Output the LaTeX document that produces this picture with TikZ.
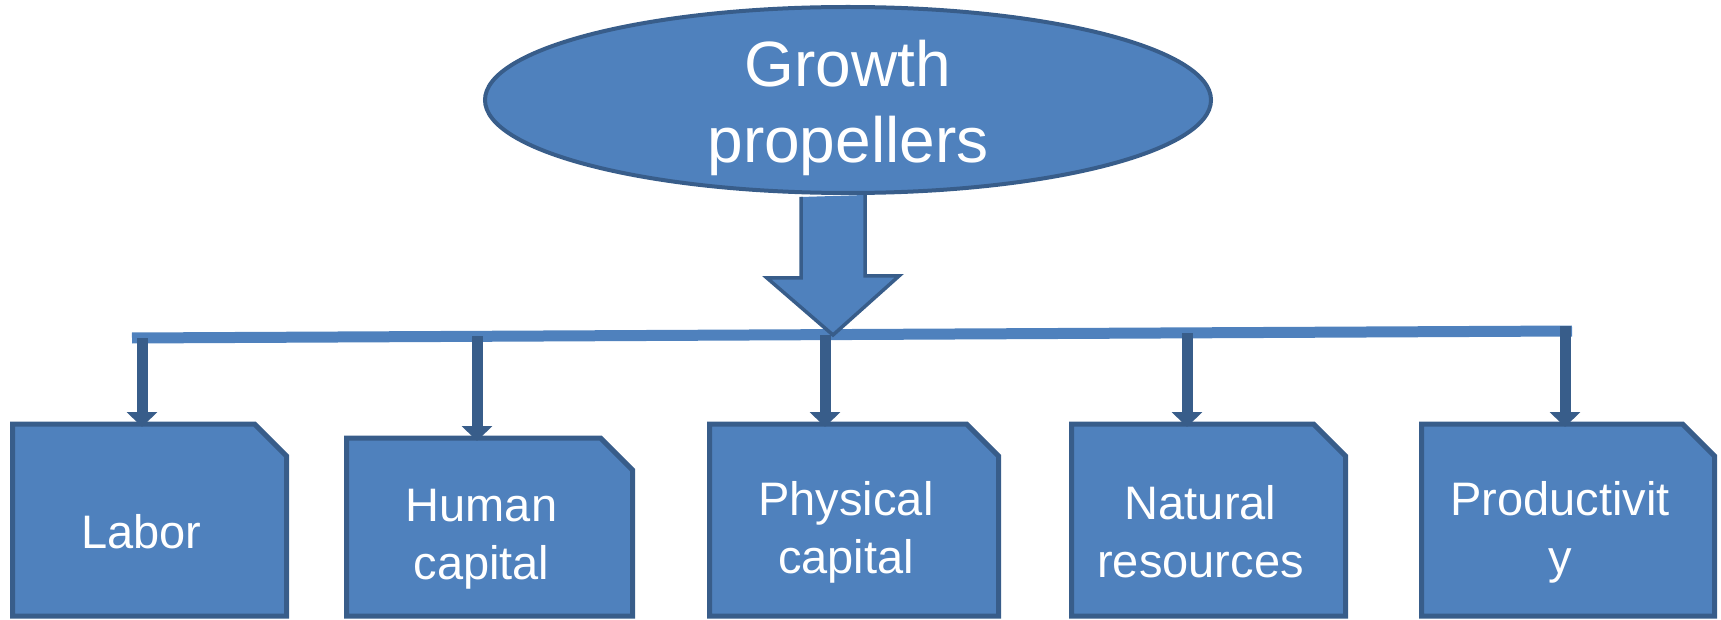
\documentclass[tikz,border=0pt]{standalone}
\usepackage{fontspec}
\setmainfont{Liberation Sans}
\usetikzlibrary{shapes.geometric,arrows.meta,calc,backgrounds}
\definecolor{fillblue}{HTML}{4F81BD}
\definecolor{edgeblue}{HTML}{385D8A}
\tikzset{hub/.style={ellipse,draw=edgeblue,fill=fillblue,line width=4pt,inner sep=0pt,minimum width=726pt,minimum height=186pt},
hubtext/.style={text=white,align=center,font=\fontsize{64}{76}\selectfont,yshift=-8pt},
box/.style={rectangle,inner sep=0pt,outer sep=0pt},
boxedge/.style={draw=edgeblue,fill=fillblue,line width=5pt},
boxtext/.style={text=white,align=center,font=\fontsize{47}{58}\selectfont,xshift=-8pt,yshift=-12pt},
bar/.style={draw=fillblue,line width=11pt},
bigarrow/.style={draw=edgeblue,fill=fillblue,line width=3.5pt},
drop/.style={draw=edgeblue,line width=11pt,shorten >=-3pt,-{Triangle[width=30pt,length=15pt]}}}

\begin{document}
\begin{tikzpicture}[x=1pt,y=-1pt]
\useasboundingbox (0,0) rectangle (1721,620);

            \node[hub,label={[hubtext]center:{Growth\\propellers}}] (growth) at (848,100) {};

            \coordinate (barL) at (132,338);
            \coordinate (barR) at (1572,331);
            \draw[bar] (barL) -- (barR);

            \coordinate (tip) at (833,335);
            \path (growth.south -| tip) ++(0,2) coordinate (stem);
            \draw[bigarrow] ($(stem)+(-32,0)$) -- ++(0,81) -- ++(-34,0) -- (tip) -- ++(66,-59) -- ++(-34,0) -- ++(0,-81);

            \node[box,minimum width=274pt,minimum height=192pt,label={[boxtext]center:Labor}] (labor) at (149.5,520) {};
            \node[box,minimum width=286pt,minimum height=178pt,label={[boxtext]center:{Human\\capital}}] (human) at (489.5,527) {};
            \node[box,minimum width=289pt,minimum height=192pt,label={[boxtext]center:{Physical\\capital}}] (physical) at (854,520) {};
            \node[box,minimum width=274pt,minimum height=192pt,label={[boxtext]center:{Natural\\resources}}] (natural) at (1208.5,520) {};
            \node[box,minimum width=293pt,minimum height=192pt,label={[boxtext]center:{Productivit\\y}}] (productivity) at (1568,520) {};

            % boxes with one cut corner
            \begin{scope}[on background layer]
            \foreach \b in {labor,human,physical,natural,productivity}
                \draw[boxedge] (\b.south west) |- ([xshift=-32pt]\b.north east) -- ([yshift=-32pt]\b.north east) -- (\b.south east) -- cycle;
            \end{scope}

            \coordinate (d1) at (142,338);
            \coordinate (d2) at (477,336);
            \coordinate (d3) at (825,335);
            \coordinate (d4) at (1187,333);
            \coordinate (d5) at (1565,326);
            \draw[drop] (d1) -- (d1 |- labor.north);
            \draw[drop] (d2) -- (d2 |- human.north);
            \draw[drop] (d3) -- (d3 |- physical.north);
            \draw[drop] (d4) -- (d4 |- natural.north);
            \draw[drop] (d5) -- (d5 |- productivity.north);
\end{tikzpicture}
\end{document}
